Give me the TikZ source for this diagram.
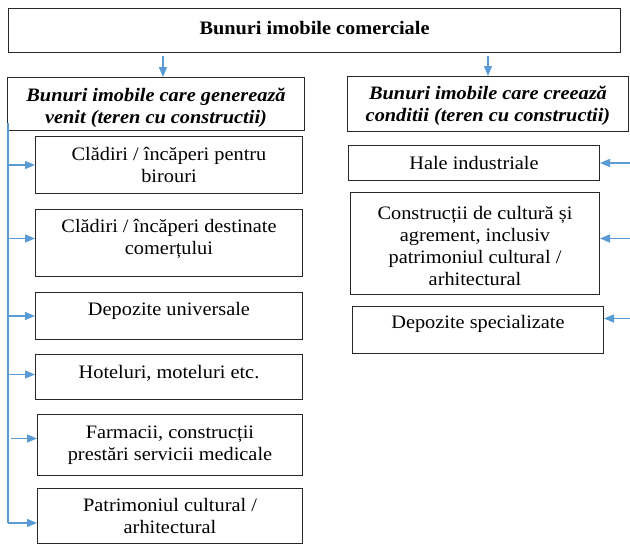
\documentclass[tikz,border=0pt]{standalone}
\usepackage{fontspec}
\setmainfont{Liberation Serif}[FakeStretch=1.07]
\usetikzlibrary{arrows.meta}
\definecolor{arrblue}{RGB}{91,155,213}
\definecolor{boxline}{RGB}{40,40,40}
\begin{document}
\begin{tikzpicture}[x=1pt,y=-1pt,
  box/.style={draw=boxline, line width=1pt, inner sep=0pt, anchor=north west},
  txt/.style={align=center, font=\fontsize{19}{22}\selectfont, inner sep=0pt},
  htxt/.style={txt, font=\fontsize{19}{22}\selectfont\bfseries\itshape},
  arr/.style={draw=arrblue, line width=1.5pt, -{Triangle[length=10pt,width=8pt]}},
  spine/.style={draw=arrblue, line width=1.5pt},
]
\useasboundingbox (0,0) rectangle (630,544);

% boxes
\node[box, minimum width=612pt, minimum height=44pt] (top) at (8,8) {};
\node[box, minimum width=297pt, minimum height=53pt] (midL) at (7,77) {};
\node[box, minimum width=281pt, minimum height=55pt] (midR) at (347,76) {};
\node[box, minimum width=267pt, minimum height=57pt] (b1) at (35,136) {};
\node[box, minimum width=267pt, minimum height=67pt] (b2) at (35,209) {};
\node[box, minimum width=267pt, minimum height=47pt] (b3) at (35,292) {};
\node[box, minimum width=267pt, minimum height=45pt] (b4) at (35,354) {};
\node[box, minimum width=265pt, minimum height=61pt] (b5) at (37,414) {};
\node[box, minimum width=265pt, minimum height=55pt] (b6) at (37,488) {};
\node[box, minimum width=251pt, minimum height=35pt] (r1) at (348,145) {};
\node[box, minimum width=249pt, minimum height=102pt] (r2) at (350,192) {};
\node[box, minimum width=251pt, minimum height=47pt] (r3) at (352,306) {};

% texts
\node[txt, font=\fontsize{19}{22}\selectfont\bfseries] (ttop) at ([yshift=2pt]top.center) {Bunuri imobile comerciale};
\node[htxt] (tmidL) at ([yshift=-4pt]midL.center) {Bunuri imobile care generează\\venit (teren cu constructii)};
\node[htxt] (tmidR) at ([yshift=-2pt]midR.center) {Bunuri imobile care creează\\conditii (teren cu constructii)};
\node[txt] (tb1) at (b1.center) {Clădiri / încăperi pentru\\birouri};
\node[txt] (tb2) at ([yshift=4pt]b2.center) {Clădiri / încăperi destinate\\comerțului};
\node[txt] (tb3) at ([yshift=5pt]b3.center) {Depozite universale};
\node[txt] (tb4) at ([yshift=4pt]b4.center) {Hoteluri, moteluri etc.};
\node[txt] (tb5) at (b5.center) {Farmacii, construcții\\prestări servicii medicale};
\node[txt] (tb6) at (b6.center) {Patrimoniul cultural /\\arhitectural};
\node[txt] (tr1) at (r1.center) {Hale industriale};
\node[txt] (tr2) at ([yshift=-2pt]r2.center) {Construcții de cultură și\\agrement, inclusiv\\patrimoniul cultural /\\arhitectural};
\node[txt] (tr3) at ([yshift=6pt]r3.center) {Depozite specializate};

% top arrows
\coordinate (aL) at (163,56);
\coordinate (aR) at (488,56);
\draw[arr] (aL) -- (aL |- midL.north);
\draw[arr] (aR) -- (aR |- midR.north);

% left spine
\coordinate (sTop) at (8,123);
\coordinate (sBot) at (8,523);
\draw[spine] (sTop) -- (sBot);
\path (b1.west) coordinate (e1)
      ([yshift=4.5pt]b2.west) coordinate (e2)
      (b3.west) coordinate (e3)
      ([yshift=2.5pt]b4.west) coordinate (e4)
      ([yshift=6.5pt]b5.west) coordinate (e5)
      ([yshift=-7.5pt]b6.west) coordinate (e6);
\draw[arr] (sTop |- e1) -- (e1);
\draw[arr] (sTop |- e2) -- (e2);
\draw[arr] (sTop |- e3) -- (e3);
\draw[arr] (sTop |- e4) -- (e4);
\draw[arr] ([xshift=3pt]sTop |- e5) -- (e5);
\draw[arr] (sBot) -- (sBot -| e6);

% right arrows
\coordinate (rEdge) at (634,0);
\path (r1.east) coordinate (f1)
      ([yshift=5pt]r2.east) coordinate (f2)
      ([yshift=11.5pt]r3.east) coordinate (f3);
\draw[arr] (rEdge |- f1) -- (f1);
\draw[arr] (rEdge |- f2) -- (f2);
\draw[arr] (rEdge |- f3) -- (f3);
\end{tikzpicture}
\end{document}
